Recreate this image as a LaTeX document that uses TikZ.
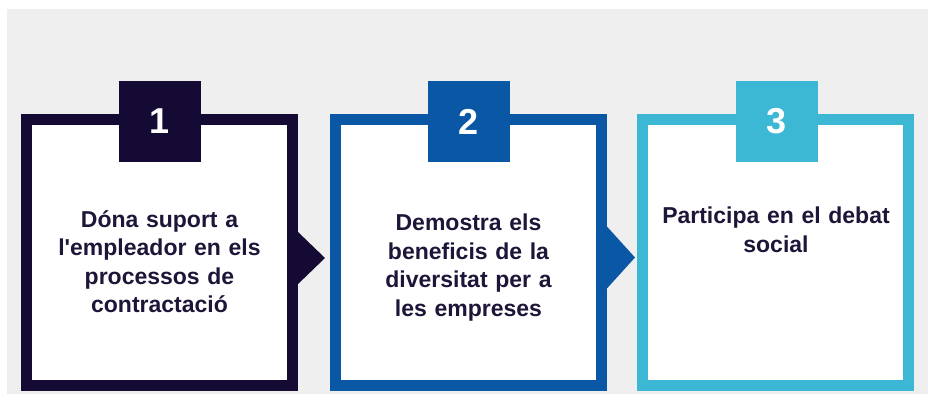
\documentclass[tikz,border=0pt]{standalone}
\usepackage{fontspec}
\setmainfont{Liberation Sans}
\definecolor{bg}{HTML}{EFEFEF}
\definecolor{cA}{HTML}{150A33}
\definecolor{cB}{HTML}{0A58A5}
\definecolor{cC}{HTML}{3DB8D4}
\definecolor{txt}{HTML}{1E1538}
\begin{document}
\begin{tikzpicture}[x=1pt,y=-1pt,
  frame/.style={draw=#1, fill=white, line width=11pt, minimum width=266pt, minimum height=266pt, inner sep=0pt, outer sep=0pt},
  tab/.style={fill=#1, minimum width=82pt, minimum height=81pt, inner sep=0pt, text=white, font=\fontsize{36}{40}\selectfont\bfseries},
  label/.style={anchor=north, text width=250pt, align=center, inner sep=0pt, text=txt, font=\fontsize{23}{28.5}\selectfont\bfseries},
  pointer/.style={fill=#1}]
\useasboundingbox (0,0) rectangle (928,394);
\fill[bg] (7,9) rectangle (928,394);

\node[frame=cA] (b1) at (159.5,252.5) {};
\node[frame=cB] (b2) at (468.5,252.5) {};
\node[frame=cC] (b3) at (775.5,252.5) {};

\node[tab=cA] (t1) at (159.5,121.5) {1};
\node[tab=cB] (t2) at (468.5,121.5) {2};
\node[tab=cC] (t3) at (776.5,121.5) {3};

\fill[cA] ([xshift=-1pt,yshift=-5.5pt]b1.east) ++(5.5,-27) coordinate (a1) -- ++(28,27) -- ++(-28,27) -- cycle;
\fill[cB] ([xshift=-1pt,yshift=-5pt]b2.east) ++(5.5,-32) coordinate (a2) -- ++(29,32) -- ++(-29,32) -- cycle;

\node[label] (l1) at (159.5,210) {Dóna suport a\\l\textquotesingle empleador en els\\processos de\\contractació};
\node[label] (l2) at (468.5,214) {Demostra els\\beneficis de la\\diversitat per a\\les empreses};
\node[label] (l3) at (776,207) {Participa en el debat\\social};
\end{tikzpicture}
\end{document}
